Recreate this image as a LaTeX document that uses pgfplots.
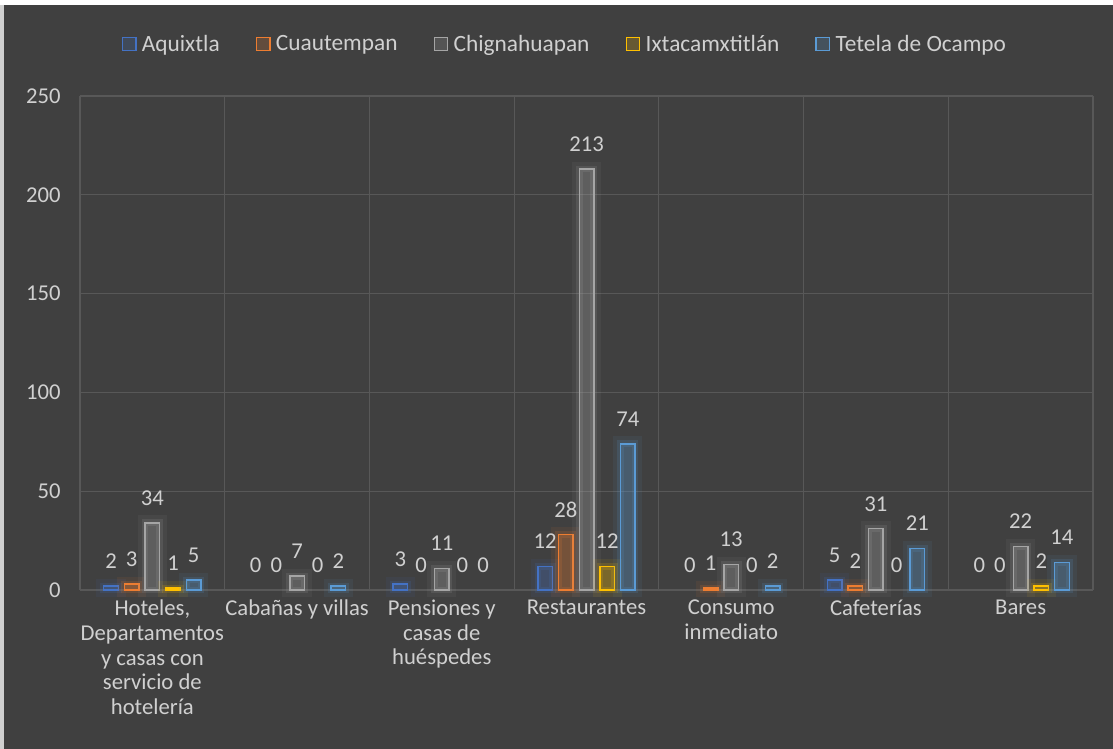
\documentclass[border=0pt]{standalone}
\usepackage{pgfplots}
\pgfplotsset{compat=1.18}
\usepackage{pgfplotstable}
\usepackage{fontspec}
\setmainfont{Carlito}
\definecolor{bg}{RGB}{64,64,64}
\definecolor{gridc}{RGB}{88,88,88}
\definecolor{txt}{RGB}{208,208,208}
\definecolor{cA}{RGB}{68,114,196}
\definecolor{cB}{RGB}{237,125,49}
\definecolor{cC}{RGB}{165,165,165}
\definecolor{cD}{RGB}{255,192,0}
\definecolor{cE}{RGB}{91,155,213}
\pgfplotstableread{
x A B C D E
0 2 3 34 1 5
1 0 0 7 0 2
2 3 0 11 0 0
3 12 28 213 12 74
4 0 1 13 0 2
5 5 2 31 0 21
6 0 0 22 2 14
}\data
\newcommand{\lbl}{\fontsize{17}{18.5}\selectfont}
\newcommand{\lgd}{\fontsize{17.5}{20}\selectfont}
\tikzset{
  glow/.style={
    preaction={draw=#1, draw opacity=0.08, line width=11pt, fill=none},
    preaction={draw=#1, draw opacity=0.15, line width=5pt, fill=none}},
}
\pgfplotsset{
  barstyle/.style n args={2}{/tikz/ybar, /pgfplots/bar width=10.9pt, /pgfplots/bar shift=#2,
     draw=#1, line width=1.1pt, fill=#1, fill opacity=0.25, glow=#1,
     y filter/.expression={y==0 ? nan : y}, forget plot},
  lblstyle/.style={/tikz/ybar, /pgfplots/bar width=10.9pt, /pgfplots/bar shift=#1,
     draw=none, fill=none, nodes near coords, forget plot,
     every node near coord/.append style={xshift=#1}},
}
\begin{document}
\begin{tikzpicture}
\fill[white] (0,0) rectangle (834.75pt,561.75pt);
\fill[txt] (0,0) rectangle (3pt,558pt);
\fill[bg] (3pt,0) rectangle (834.75pt,558pt);
\begin{axis}[
  at={(60pt,119.25pt)}, anchor=south west,
  scale only axis, width=759.75pt, height=370.5pt,
  xmin=-0.5, xmax=6.5, ymin=0, ymax=250,
  ytick={0,50,...,250},
  xtick={0,...,6},
  xticklabels={{Hoteles,\\Departamentos\\y casas con\\servicio de\\hotelería},
    {Cabañas y villas},
    {Pensiones y\\casas de\\huéspedes},
    {Restaurantes},
    {Consumo\\inmediato},
    {Cafeterías},
    {Bares}},
  minor xtick={-0.5,0.5,...,6.5},
  xminorgrids, ymajorgrids,
  major grid style={gridc, line width=0.9pt},
  minor grid style={gridc, line width=0.9pt},
  axis line style={draw=none},
  major tick length=0pt, minor tick length=0pt,
  tick label style={font=\lbl, text=txt},
  yticklabel style={xshift=-11pt},
  xticklabel style={align=center, yshift=-4pt},
  /pgf/number format/assume math mode=true,
  every node near coord/.append style={font=\lbl, text=txt, anchor=center, yshift=18.75pt},
  legend image code/.code={\draw[#1] (0pt,-4.9pt) rectangle (10pt,4.9pt);},
  legend style={draw=none, fill=none, text=txt, font=\lgd,
    at={(0.479,1.105)}, anchor=center, legend columns=-1,
    /tikz/every odd column/.append style={column sep=2pt},
    /tikz/every even column/.append style={column sep=25pt}},
  clip=false,
]
\addplot[barstyle={cA}{-31pt}] table[x=x, y=A] {\data};
\addplot[barstyle={cB}{-15.5pt}] table[x=x, y=B] {\data};
\addplot[barstyle={cC}{0pt}] table[x=x, y=C] {\data};
\addplot[barstyle={cD}{15.5pt}] table[x=x, y=D] {\data};
\addplot[barstyle={cE}{31pt}] table[x=x, y=E] {\data};
\addplot[lblstyle={-31pt}] table[x=x, y=A] {\data};
\addplot[lblstyle={-15.5pt}] table[x=x, y=B] {\data};
\addplot[lblstyle={0pt}] table[x=x, y=C] {\data};
\addplot[lblstyle={15.5pt}] table[x=x, y=D] {\data};
\addplot[lblstyle={31pt}] table[x=x, y=E] {\data};
\addlegendimage{draw=cA, line width=1.1pt, fill=cA, fill opacity=0.2}
\addlegendimage{draw=cB, line width=1.1pt, fill=cB, fill opacity=0.2}
\addlegendimage{draw=cC, line width=1.1pt, fill=cC, fill opacity=0.2}
\addlegendimage{draw=cD, line width=1.1pt, fill=cD, fill opacity=0.2}
\addlegendimage{draw=cE, line width=1.1pt, fill=cE, fill opacity=0.2}
\legend{Aquixtla, Cuautempan, Chignahuapan, Ixtacamxtitlán, Tetela de Ocampo}
\end{axis}
\pgfresetboundingbox
\path (0,0) rectangle (834.75pt,561.75pt);
\end{tikzpicture}
\end{document}
